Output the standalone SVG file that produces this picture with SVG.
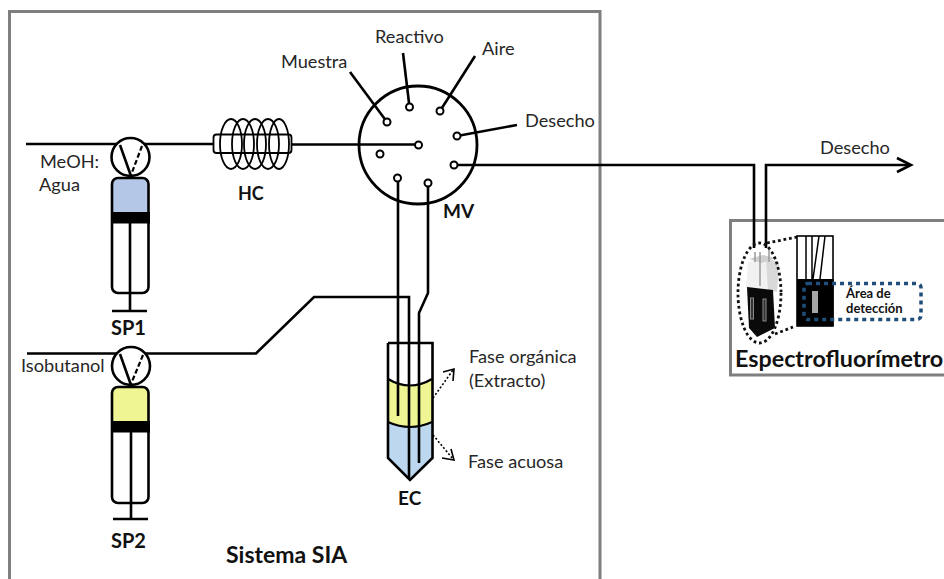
<svg xmlns="http://www.w3.org/2000/svg" width="944" height="579" viewBox="0 0 944 579">
<style>
text{font-family:"Lato","Open Sans",sans-serif;fill:#262626;font-size:18.200px}
.b{font-weight:700;fill:#111}
.l{fill:none;stroke:#000;stroke-width:2.600;stroke-linejoin:miter}
.t{fill:none;stroke:#000;stroke-width:1.800}
.box{fill:none;stroke:#7f7f7f;stroke-width:3}
.port{fill:#fff;stroke:#000;stroke-width:2}
.d{fill:none;stroke:#000;stroke-width:1.600;stroke-dasharray:2 2}
.o{fill:none;stroke:#000;stroke-width:1.600}
.dot{fill:none;stroke:#111;stroke-width:2.800;stroke-dasharray:2.800 2.800}
</style>
<rect width="944" height="579" fill="#fff"/>
<g id="sistema-sia">
<path class="box" d="M9.500 585V11.500H600V585"/>
<text class="b" x="226" y="563" style="font-size:23px">Sistema SIA</text>
</g>
<g id="espectrofluorimetro">
<path class="box" d="M950 220.500H730.500V375H950"/>
<text class="b" x="735" y="367" style="font-size:23.300px">Espectrofluorímetro</text>
</g>
<g id="EC">
<path d="M388 379Q410 392 432 379V422Q410 432 388 422Z" fill="#eef592"/>
<path d="M388 422Q410 432 432 422V458L410 479L388 458Z" fill="#bdd7ee"/>
<path class="l" d="M388 343H432.500V458L410 480L388 458V343"/>
<path class="l" d="M388 379Q410 392 432 379M388 422Q410 432 432 422" style="stroke-width:2.200"/>
<text class="b" x="398" y="505" style="font-size:19px">EC</text>
<path class="d" d="M433 398L453 370"/>
<path class="o" d="M443 372L454 369L453 381"/>
<path class="d" d="M433 435L453 459"/>
<path class="o" d="M442 458L454 460L451 449"/>
<text x="469" y="363">Fase orgánica</text>
<text x="469" y="387">(Extracto)</text>
<text x="468" y="468">Fase acuosa</text>
</g>
<g id="connectors">
<path class="l" d="M26 144H213M292 144.500H418.500"/>
<path class="l" d="M27 353.500H256L314 297H409V478"/>
<path class="l" d="M398 178V416"/>
<path class="l" d="M428 183V293L419 313V463"/>
<path class="l" d="M454 165H754V248"/>
<path class="l" d="M766 248V165H910"/>
<path class="l" d="M897 158L911 165L897 172"/>
<path class="l" d="M350 72L387 122"/>
<path class="l" d="M403 53L409.500 107"/>
<path class="l" d="M475 56L440 111"/>
<path class="l" d="M517 125L457 136"/>
</g>
<g id="SP1">
<circle cx="130.500" cy="157" r="19" fill="#fff" stroke="#000" stroke-width="2.600"/>
<path class="l" d="M120 145L131 176"/>
<path d="M142 146L131 175" fill="none" stroke="#000" stroke-width="2.200" stroke-dasharray="5 2.500"/>
<path d="M112 212V184Q112 178 118 178H142Q148 178 148 184V212Z" fill="#b4c7e7"/>
<rect class="l" x="112" y="178" width="36.500" height="115" rx="6"/>
<rect x="112" y="212" width="38" height="11.500" fill="#000"/>
<path class="l" d="M130 223V311M112 311H147"/>
<text class="b" x="111" y="335" style="font-size:20px">SP1</text>
<text x="40" y="168">MeOH:</text>
<text x="39" y="191">Agua</text>
</g>
<g id="SP2">
<circle cx="131" cy="366" r="19" fill="#fff" stroke="#000" stroke-width="2.600"/>
<path class="l" d="M120 354L131 385"/>
<path d="M143 355L131 384" fill="none" stroke="#000" stroke-width="2.200" stroke-dasharray="5 2.500"/>
<path d="M112 421V393Q112 387 118 387H142Q148 387 148 393V421Z" fill="#eef592"/>
<rect class="l" x="112" y="387" width="36.500" height="116" rx="6"/>
<rect x="112" y="421" width="38" height="11.500" fill="#000"/>
<path class="l" d="M131 432V519M113 519H148"/>
<text class="b" x="111" y="548" style="font-size:20px">SP2</text>
<text x="21" y="372">Isobutanol</text>
</g>
<g id="HC">
<rect x="213.500" y="134.500" width="78" height="18.500" rx="3" fill="#fff" stroke="#000" stroke-width="1.800"/>
<ellipse class="t" cx="231" cy="144" rx="11" ry="25"/>
<ellipse class="t" cx="243" cy="144" rx="11" ry="25"/>
<ellipse class="t" cx="255" cy="144" rx="11" ry="25"/>
<ellipse class="t" cx="268" cy="144" rx="11" ry="25"/>
<ellipse class="t" cx="279" cy="144" rx="10" ry="25"/>
<text class="b" x="238" y="200" style="font-size:18px">HC</text>
</g>
<g id="MV">
<circle cx="418" cy="145" r="59" fill="none" stroke="#000" stroke-width="2.800"/>
<circle class="port" cx="387" cy="122" r="3.500"/>
<circle class="port" cx="409.500" cy="107" r="3.500"/>
<circle class="port" cx="440" cy="111" r="3.500"/>
<circle class="port" cx="457" cy="136" r="3.500"/>
<circle class="port" cx="454" cy="165" r="3.500"/>
<circle class="port" cx="418.500" cy="145" r="3.500"/>
<circle class="port" cx="380" cy="154" r="3.500"/>
<circle class="port" cx="397.500" cy="178" r="3.500"/>
<circle class="port" cx="428" cy="183" r="3.500"/>
<text class="b" x="443" y="218" style="font-size:19px">MV</text>
<text x="281" y="68">Muestra</text>
<text x="375" y="43">Reactivo</text>
<text x="482" y="55">Aire</text>
<text x="525" y="127">Desecho</text>
</g>
<g id="desecho-salida">
<text x="820" y="154">Desecho</text>
</g>
<g id="cubeta">
<path d="M748 262L764 258L779 264L777 292L746 288Z" fill="#f1f1f1"/>
<path d="M766 258L779 262L777 292L768 290Z" fill="#d9d9d9"/>
<path d="M749 259L763 255L776 258L762 263Z" fill="#cfcfcf"/>
<path d="M755 252V262M760 252V286M769 250V262" stroke="#999" stroke-width="1.500" fill="none"/>
<path d="M747 287L773 290L775 328L757 337L749 328Z" fill="#0a0a0a"/>
<rect x="750.500" y="298" width="3" height="21" fill="#333" stroke="#888" stroke-width="1"/>
<rect x="763" y="299" width="3" height="22" fill="#333" stroke="#888" stroke-width="1"/>
<ellipse class="dot" cx="759.500" cy="293" rx="21.500" ry="50"/>
<path class="dot" d="M767 243L797 237M775 334L793 327"/>
</g>
<g id="area-deteccion">
<rect x="797" y="236" width="36" height="90" fill="#fff" stroke="#000" stroke-width="1.600"/>
<rect x="797" y="279" width="36.500" height="47" fill="#000"/>
<path d="M806 236V279M812 236V279M819 236L813 279M825 236L820 279" stroke="#000" stroke-width="1.500" fill="none"/>
<rect x="812" y="291" width="6" height="22" fill="#a6a6a6"/>
<rect x="804" y="283.500" width="117" height="36" rx="4" fill="none" stroke="#1f4e79" stroke-width="3.500" stroke-dasharray="4 4"/>
<text class="b" x="846" y="298" style="font-size:13px">Área de</text>
<text class="b" x="846" y="313" style="font-size:13px">detección</text>
</g>
</svg>
